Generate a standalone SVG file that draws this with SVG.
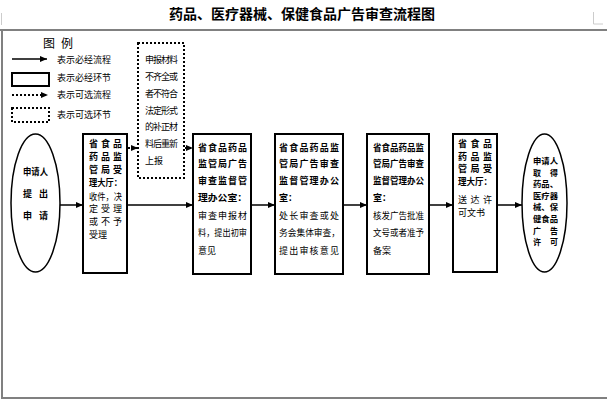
<svg xmlns="http://www.w3.org/2000/svg" width="607" height="400" viewBox="0 0 607 400">
<defs>
<style>
text{font-family:"Noto Sans CJK SC","Liberation Sans",sans-serif;fill:#000;}
.t{font-size:14px;font-weight:bold;}
.lg{font-size:9px;}
.lh{font-size:12px;}
.b{font-size:9px;font-weight:bold;}
.bs{font-size:8px;font-weight:bold;}
.n{font-size:9px;}
.box{fill:#fff;stroke:#000;stroke-width:2;}
.dbox{fill:#fff;stroke:#000;stroke-width:2;stroke-dasharray:2 2;}
.ell{fill:#fff;stroke:#000;stroke-width:1.5;}
.ln{stroke:#000;stroke-width:1.5;fill:none;}
.dl{stroke:#000;stroke-width:2;stroke-dasharray:2 2;fill:none;}
.fr{stroke:#808080;stroke-width:2;fill:none;}
.mk{stroke:#ccc;stroke-width:1;fill:none;}
</style>
<marker id="ah" markerUnits="userSpaceOnUse" markerWidth="8" markerHeight="8" refX="7" refY="4" orient="auto">
<path d="M0,1 L7,4 L0,7 Z" fill="#000"/>
</marker>
</defs>
<rect width="607" height="400" fill="#fff"/>
<g id="frame">
<path class="mk" d="M1.5,13 V25"/>
<path class="mk" d="M593.5,12 V24 H603"/>
<path class="fr" d="M0,30 H607 M2,30 V398 H607"/>
</g>
<text class="t" x="302" y="19" text-anchor="middle">药品、医疗器械、保健食品广告审查流程图</text>
<g id="legend">
<text class="lh" x="43" y="48">图</text>
<text class="lh" x="61" y="48">例</text>
<path class="ln" d="M12,59 H47" marker-end="url(#ah)"/>
<text class="lg" x="57" y="63.4">表示必经流程</text>
<rect class="box" x="12" y="73" width="37" height="13"/>
<text class="lg" x="57" y="81.4">表示必经环节</text>
<path class="dl" d="M12,95 H48" marker-end="url(#ah)"/>
<text class="lg" x="57" y="98.4">表示可选流程</text>
<rect class="dbox" x="12" y="108" width="37" height="14"/>
<text class="lg" x="57" y="118.4">表示可选环节</text>
</g>
<g id="connectors">
<path class="ln" d="M60,205 H83" marker-end="url(#ah)"/>
<path class="ln" d="M127,205 H193" marker-end="url(#ah)"/>
<path class="ln" d="M251,205 H275" marker-end="url(#ah)"/>
<path class="ln" d="M343,205 H367" marker-end="url(#ah)"/>
<path class="ln" d="M429,205 H453" marker-end="url(#ah)"/>
<path class="ln" d="M497,205 H522" marker-end="url(#ah)"/>
<path class="dl" d="M128,148 H138" marker-end="url(#ah)"/>
<path class="dl" d="M185,148 H193" marker-end="url(#ah)"/>
</g>
<g id="applicant">
<ellipse class="ell" cx="35.5" cy="203" rx="24.5" ry="69"/>
<text class="b" x="23" y="175.4" textLength="25" lengthAdjust="spacingAndGlyphs">申请人</text>
<text class="b" x="23" y="197.4" textLength="25" lengthAdjust="spacing">提出</text>
<text class="b" x="23" y="219.4" textLength="25" lengthAdjust="spacing">申请</text>
</g>
<g id="hall-accept">
<rect class="box" x="83" y="134" width="44" height="139"/>
<text class="b" x="89" y="147.4" textLength="33" lengthAdjust="spacing">省食品</text>
<text class="b" x="89" y="160.4" textLength="33" lengthAdjust="spacing">药品监</text>
<text class="b" x="89" y="173.4" textLength="33" lengthAdjust="spacing">管局受</text>
<text class="b" x="89" y="186.4" textLength="33" lengthAdjust="spacingAndGlyphs">理大厅：</text>
<text class="n" x="89" y="200.4" textLength="33" lengthAdjust="spacingAndGlyphs">收件，决</text>
<text class="n" x="89" y="212.4" textLength="33" lengthAdjust="spacing">定受理</text>
<text class="n" x="89" y="225.4" textLength="33" lengthAdjust="spacing">或不予</text>
<text class="n" x="89" y="238.4">受理</text>
</g>
<g id="supplement">
<rect class="dbox" x="138" y="43" width="46" height="135"/>
<text class="n" x="145" y="63.4" textLength="33" lengthAdjust="spacing">申报材料</text>
<text class="n" x="145" y="80.4" textLength="33" lengthAdjust="spacing">不齐全或</text>
<text class="n" x="145" y="97.4" textLength="33" lengthAdjust="spacing">者不符合</text>
<text class="n" x="145" y="114.4" textLength="33" lengthAdjust="spacing">法定形式</text>
<text class="n" x="145" y="130.4" textLength="33" lengthAdjust="spacing">的补正材</text>
<text class="n" x="145" y="147.4" textLength="33" lengthAdjust="spacing">料后重新</text>
<text class="n" x="145" y="164.4">上报</text>
</g>
<g id="office-initial">
<rect class="box" x="193" y="134" width="58" height="140"/>
<text class="b" x="198" y="151.4" textLength="49" lengthAdjust="spacing">省食品药品</text>
<text class="b" x="198" y="167.4" textLength="49" lengthAdjust="spacing">监管局广告</text>
<text class="b" x="198" y="184.4" textLength="49" lengthAdjust="spacing">审查监督管</text>
<text class="b" x="198" y="201.4" textLength="49" lengthAdjust="spacingAndGlyphs">理办公室：</text>
<text class="n" x="198" y="219.4" textLength="49" lengthAdjust="spacing">审查申报材</text>
<text class="n" x="198" y="236.4" textLength="49" lengthAdjust="spacingAndGlyphs">料，提出初审</text>
<text class="n" x="198" y="254.4">意见</text>
</g>
<g id="office-review">
<rect class="box" x="275" y="134" width="68" height="140"/>
<text class="b" x="279" y="151.4" textLength="60" lengthAdjust="spacing">省食品药品监</text>
<text class="b" x="279" y="167.4" textLength="60" lengthAdjust="spacing">管局广告审查</text>
<text class="b" x="279" y="184.4" textLength="60" lengthAdjust="spacing">监督管理办公</text>
<text class="b" x="279" y="201.4">室：</text>
<text class="n" x="279" y="219.4" textLength="60" lengthAdjust="spacing">处长审查或处</text>
<text class="n" x="279" y="236.4" textLength="61" lengthAdjust="spacingAndGlyphs">务会集体审查，</text>
<text class="n" x="279" y="254.4" textLength="60" lengthAdjust="spacing">提出审核意见</text>
</g>
<g id="office-approve">
<rect class="box" x="367" y="134" width="62" height="140"/>
<text class="b" x="373" y="151.4" textLength="51" lengthAdjust="spacingAndGlyphs">省食品药品监</text>
<text class="b" x="373" y="167.4" textLength="51" lengthAdjust="spacingAndGlyphs">管局广告审查</text>
<text class="b" x="373" y="184.4" textLength="51" lengthAdjust="spacingAndGlyphs">监督管理办公</text>
<text class="b" x="373" y="201.4">室：</text>
<text class="n" x="373" y="219.4" textLength="51" lengthAdjust="spacingAndGlyphs">核发广告批准</text>
<text class="n" x="373" y="236.4" textLength="51" lengthAdjust="spacingAndGlyphs">文号或者准予</text>
<text class="n" x="373" y="254.4">备案</text>
</g>
<g id="hall-deliver">
<rect class="box" x="453" y="134" width="44" height="138"/>
<text class="b" x="458" y="147.4" textLength="34" lengthAdjust="spacing">省食品</text>
<text class="b" x="458" y="160.4" textLength="34" lengthAdjust="spacing">药品监</text>
<text class="b" x="458" y="172.4" textLength="34" lengthAdjust="spacing">管局受</text>
<text class="b" x="458" y="185.4" textLength="34" lengthAdjust="spacingAndGlyphs">理大厅：</text>
<text class="n" x="458" y="203.4" textLength="34" lengthAdjust="spacing">送达许</text>
<text class="n" x="458" y="216.4">可文书</text>
</g>
<g id="permit">
<ellipse class="ell" cx="544.5" cy="203" rx="22.5" ry="69"/>
<text class="bs" x="533" y="164" textLength="25" lengthAdjust="spacingAndGlyphs">申请人</text>
<text class="bs" x="533" y="175.6" textLength="25" lengthAdjust="spacing">取得</text>
<text class="bs" x="533" y="187.2" textLength="25" lengthAdjust="spacingAndGlyphs">药品、</text>
<text class="bs" x="533" y="198.8" textLength="25" lengthAdjust="spacingAndGlyphs">医疗器</text>
<text class="bs" x="533" y="210.4" textLength="25" lengthAdjust="spacingAndGlyphs">械、保</text>
<text class="bs" x="533" y="222" textLength="25" lengthAdjust="spacingAndGlyphs">健食品</text>
<text class="bs" x="533" y="233.6" textLength="25" lengthAdjust="spacing">广告</text>
<text class="bs" x="533" y="245.2" textLength="25" lengthAdjust="spacing">许可</text>
</g>
</svg>
